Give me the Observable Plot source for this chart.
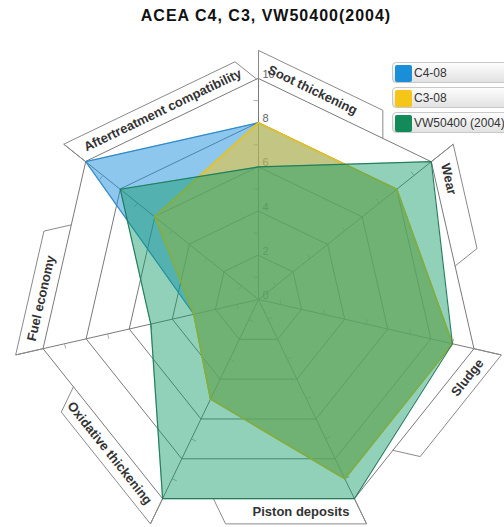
<!DOCTYPE html>
<html><head><meta charset="utf-8">
<script src="https://cdn.jsdelivr.net/npm/d3@7"></script>
<script src="https://cdn.jsdelivr.net/npm/@observablehq/plot@0.6"></script>
<style>
body{margin:0;background:#fff;font-family:"Liberation Sans",Arial,sans-serif;}
#wrap{position:relative;width:504px;height:527px;overflow:hidden;background:#fff;}
#chart{position:absolute;left:0;top:0;}
#title{position:absolute;left:0;width:532px;top:8px;text-align:center;font-weight:bold;font-size:16px;line-height:16px;letter-spacing:1px;color:#111;}
#legend{position:absolute;left:392px;top:62px;}
.row{position:relative;width:150px;height:21px;margin-bottom:4px;border:1px solid #c9c9c9;border-radius:4px;background:linear-gradient(#fdfdfd,#e2e2e2);box-sizing:border-box;}
.sw{position:absolute;left:2px;top:2px;width:17px;height:17px;border-radius:2px;}
.lab{position:absolute;left:21px;top:3px;font-size:12px;line-height:14px;color:#333;white-space:nowrap;}
</style></head>
<body>
<div id="wrap">
  <div id="chart"></div>
  <div id="title"></div>
  <div id="legend"></div>
</div>
<script>
// ---- data ----
const chartTitle = "ACEA C4, C3, VW50400(2004)";
const axes = ["Soot thickening","Wear","Sludge","Piston deposits","Oxidative thickening","Fuel economy","Aftertreatment compatibility"];
const seriesNames = ["C4-08","C3-08","VW50400 (2004)"];
const c4 = [8, 8, 9, 9, 5, 3, 10];
const c3 = [8, 8, 9, 9, 5, 3, 6];
const vw = [6, 10, 9, 10, 10, 5, 8];
const tickValues = [0, 2, 4, 6, 8, 10];
const ringValues = [2, 4, 6, 8, 10];
const minorTicks = [1, 3, 5, 7, 9];

// ---- layout / style ----
const W = 504, H = 527, CX = 258, CY = 299, K = 22.1;
const seriesFill = ["#1e90dc", "#f5c518", "#0a9a64"];
const seriesOpacity = [0.5, 0.5, 0.45];
const seriesStroke = ["#2a86c8", "#e9c21c", "#1d7a5a"];
const swatch = ["#1a8fd8", "#f5c518", "#138a5a"];
const boxLen = [138, 107, 130, 141, 143, 127, 190];
const axisExt = 11.27;

const N = axes.length;
const ang = i => i * 2 * Math.PI / N;
const pt = (i, r) => ({x: r * Math.sin(ang(i % N)), y: r * Math.cos(ang(i % N))});

// rings
const rings = ringValues.flatMap(r => axes.map((a, i) => ({r, ...pt(i, r)})));
// spokes
const spokes = axes.map((a, i) => { const e = pt(i, axisExt); return {x1: 0, y1: 0, x2: e.x, y2: e.y}; });
// minor ticks
const mticks = axes.flatMap((a, i) => minorTicks.map(v => {
  const p = pt(i, v); const t = ang(i);
  const px = -Math.cos(t), py = Math.sin(t);
  return {x1: p.x, y1: p.y, x2: p.x + px * 5 / K, y2: p.y + py * 5 / K};
}));

// label boxes and texts
const boxes = [], labels = [];
axes.forEach((a, i) => {
  const p0 = pt(i, 10), p1 = pt(i + 1, 10);
  let dx = p1.x - p0.x, dy = p1.y - p0.y; const l = Math.hypot(dx, dy); dx /= l; dy /= l;
  const nx = -dy, ny = dx; // outward normal
  const q = pt(i, axisExt), L = boxLen[i] / K;
  boxes.push({i, x: p0.x, y: p0.y}, {i, x: q.x, y: q.y}, {i, x: q.x + dx * L, y: q.y + dy * L}, {i, x: p0.x + dx * L, y: p0.y + dy * L});
  let angle = Math.atan2(-dy, dx) * 180 / Math.PI;
  let flipped = false;
  if (angle > 90) { angle -= 180; flipped = true; } else if (angle < -90) { angle += 180; flipped = true; }
  const along = 5 / K, out = 13 / K;
  labels.push({text: a, rotate: angle, flipped, x: p0.x + dx * along + nx * out, y: p0.y + dy * along + ny * out});
});

const seriesData = [c4, c3, vw].map((vals, s) => vals.map((v, i) => ({series: seriesNames[s], value: v, ...pt(i, v)})));

const marks = [
  Plot.line(rings, {x: "x", y: "y", z: "r", curve: "linear-closed", stroke: "#7a7a7a", strokeWidth: 1}),
  Plot.link(spokes, {x1: "x1", y1: "y1", x2: "x2", y2: "y2", stroke: "#7a7a7a", strokeWidth: 1}),
  Plot.link(mticks, {x1: "x1", y1: "y1", x2: "x2", y2: "y2", stroke: "#999", strokeWidth: 0.8}),
  Plot.line(boxes, {x: "x", y: "y", z: "i", stroke: "#8a8a8a", strokeWidth: 1}),
  Plot.text(tickValues, {x: 0.18, y: d => d, text: d => String(d), textAnchor: "start", dy: -4, fill: "#666", fontSize: 11}),
];
seriesData.forEach((d, s) => {
  marks.push(Plot.area(d, {x1: "x", y1: "y", x2: 0, y2: 0, curve: "linear-closed", fill: seriesFill[s], fillOpacity: seriesOpacity[s]}));
  marks.push(Plot.line(d, {x: "x", y: "y", curve: "linear-closed", stroke: seriesStroke[s], strokeWidth: s === 1 ? 1.8 : 1.2, strokeOpacity: 0.95}));
});
marks.push(
  Plot.text(labels.filter(d => !d.flipped), {x: "x", y: "y", text: "text", rotate: "rotate", textAnchor: "start", fontWeight: "bold", fontSize: 13, fill: "#333"}),
  Plot.text(labels.filter(d => d.flipped), {x: "x", y: "y", text: "text", rotate: "rotate", textAnchor: "end", fontWeight: "bold", fontSize: 13, fill: "#333"})
);

const plot = Plot.plot({
  width: W, height: H, margin: 0,
  style: {fontFamily: "'Liberation Sans', Arial, sans-serif", background: "transparent"},
  x: {domain: [-CX / K, (W - CX) / K], range: [0, W], axis: null},
  y: {domain: [-(H - CY) / K, CY / K], range: [H, 0], axis: null},
  marks
});
document.getElementById("chart").appendChild(plot);
document.getElementById("title").textContent = chartTitle;

const leg = document.getElementById("legend");
seriesNames.forEach((n, s) => {
  const row = document.createElement("div"); row.className = "row";
  const sw = document.createElement("div"); sw.className = "sw"; sw.style.background = swatch[s];
  const lab = document.createElement("div"); lab.className = "lab"; lab.textContent = n;
  row.appendChild(sw); row.appendChild(lab); leg.appendChild(row);
});
</script>
</body></html>
